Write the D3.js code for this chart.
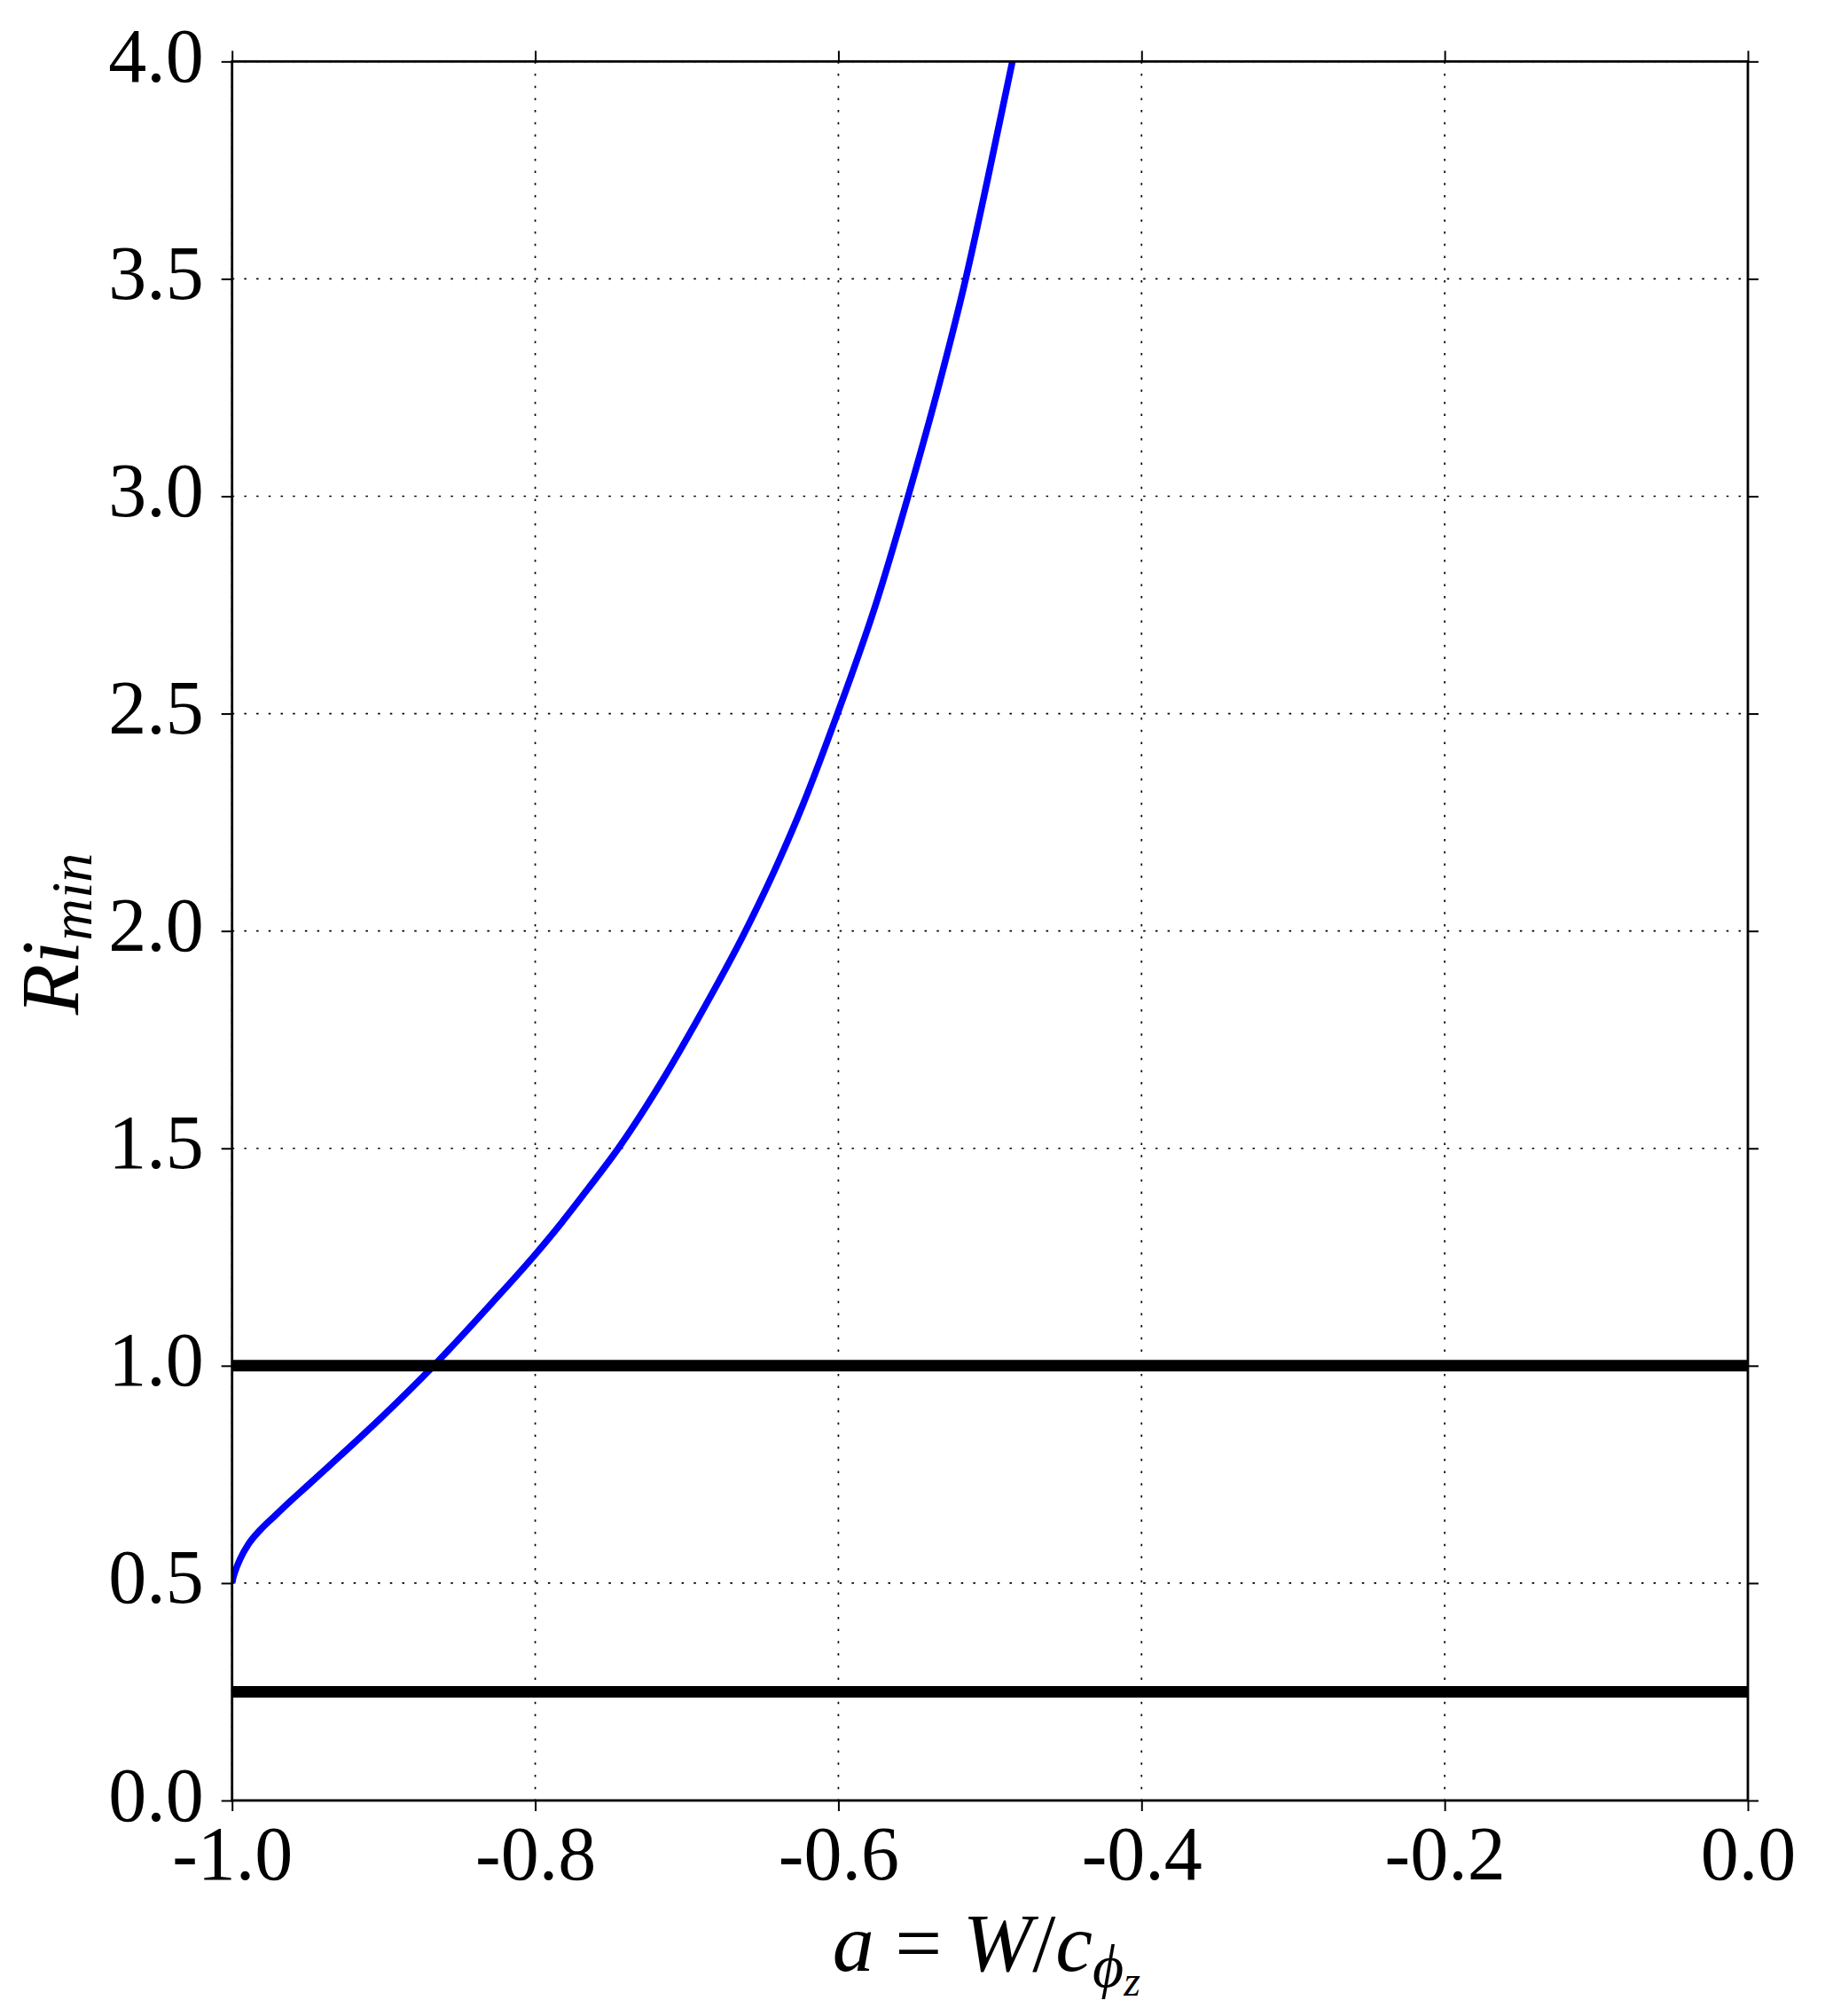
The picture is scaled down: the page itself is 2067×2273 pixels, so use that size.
<!DOCTYPE html>
<html>
<head>
<meta charset="utf-8">
<script src="https://cdn.jsdelivr.net/npm/d3@7"></script>
<style>
  html, body { margin: 0; padding: 0; background: #fff; }
  svg { display: block; }
</style>
</head>
<body>
<svg id="chart" width="2067" height="2273"></svg>
<script>
// ---- data ----
const aVals  = [-1.0, -0.9993, -0.998, -0.9946, -0.9893, -0.9815, -0.9717, -0.962, -0.9503, -0.9396, -0.9283, -0.9006, -0.867, -0.8284, -0.8002, -0.7826, -0.765, -0.7452, -0.7169, -0.6939, -0.6613, -0.6393, -0.6237, -0.6006, -0.5759, -0.554, -0.5349, -0.516, -0.5018, -0.4852];
const riVals = [0.5, 0.512, 0.527, 0.556, 0.589, 0.622, 0.655, 0.687, 0.724, 0.758, 0.794, 0.884, 1.0, 1.145, 1.255, 1.329, 1.408, 1.5, 1.652, 1.79, 2.0, 2.161, 2.288, 2.5, 2.745, 3.0, 3.239, 3.5, 3.725, 4.0];
const hLineVals = [1.0, 0.25];
const xTicks = [-1.0, -0.8, -0.6, -0.4, -0.2, 0.0];
const xTickLabels = ["-1.0", "-0.8", "-0.6", "-0.4", "-0.2", "0.0"];
const yTicks = [0.0, 0.5, 1.0, 1.5, 2.0, 2.5, 3.0, 3.5, 4.0];
const yTickLabels = ["0.0", "0.5", "1.0", "1.5", "2.0", "2.5", "3.0", "3.5", "4.0"];
const xDomain = [-1.0, 0.0];
const yDomain = [0.0, 4.0];

// ---- layout ----
const L = 261.7, R = 1971, T = 69.3, B = 2030;
const FONT = "'Liberation Serif', 'Times New Roman', serif";

const svg = d3.select("#chart");
svg.append("rect").attr("width", 2067).attr("height", 2273).attr("fill", "#fff");

const x = d3.scaleLinear().domain(xDomain).range([L, R]);
const y = d3.scaleLinear().domain(yDomain).range([B, T]);

svg.append("defs").append("clipPath").attr("id", "clip")
  .append("rect").attr("x", L).attr("y", T).attr("width", R - L).attr("height", B - T);

// grid
const grid = svg.append("g");
grid.selectAll("line.gx").data(xTicks).join("line")
  .attr("x1", d => x(d)).attr("x2", d => x(d)).attr("y1", T).attr("y2", B)
  .attr("stroke", "#000").attr("stroke-width", 1.7).attr("stroke-dasharray", "2.5,11.2");
grid.selectAll("line.gy").data(yTicks).join("line")
  .attr("y1", d => y(d)).attr("y2", d => y(d)).attr("x1", L).attr("x2", R)
  .attr("stroke", "#000").attr("stroke-width", 1.7).attr("stroke-dasharray", "2.5,11.2");

// data lines
const plot = svg.append("g").attr("clip-path", "url(#clip)");
const pts = aVals.map((a, i) => [a, riVals[i]]);
plot.append("path")
  .datum(pts)
  .attr("fill", "none")
  .attr("stroke", "#0000ff")
  .attr("stroke-width", 7.5)
  .attr("stroke-linejoin", "round")
  .attr("d", d3.line().x(d => x(d[0])).y(d => y(d[1])).curve(d3.curveMonotoneX));

plot.selectAll("line.h").data(hLineVals).join("line")
  .attr("x1", x(xDomain[0])).attr("x2", x(xDomain[1]))
  .attr("y1", d => y(d)).attr("y2", d => y(d))
  .attr("stroke", "#000").attr("stroke-width", 13);

// axes
function styleAxis(g) {
  g.select(".domain").remove();
  g.selectAll(".tick line").attr("stroke", "#000").attr("stroke-width", 2);
}
svg.append("g").attr("transform", `translate(0,${B})`)
  .call(d3.axisBottom(x).tickValues(xTicks).tickFormat((d, i) => xTickLabels[i]).tickSize(12))
  .call(styleAxis)
  .call(g => g.selectAll("text")
    .attr("y", 89).attr("dy", 0)
    .attr("font-family", FONT).attr("font-size", 86).attr("fill", "#000"));

svg.append("g").attr("transform", `translate(${L},0)`)
  .call(d3.axisLeft(y).tickValues(yTicks).tickFormat((d, i) => yTickLabels[i]).tickSize(12))
  .call(styleAxis)
  .call(g => g.selectAll("text")
    .attr("x", -32).attr("dy", 22)
    .attr("font-family", FONT).attr("font-size", 86).attr("fill", "#000"));

svg.append("g").attr("transform", `translate(0,${T})`)
  .call(d3.axisTop(x).tickValues(xTicks).tickFormat("").tickSize(12))
  .call(styleAxis);

svg.append("g").attr("transform", `translate(${R},0)`)
  .call(d3.axisRight(y).tickValues(yTicks).tickFormat("").tickSize(12))
  .call(styleAxis);

// spines
svg.append("rect").attr("x", L).attr("y", T).attr("width", R - L).attr("height", B - T)
  .attr("fill", "none").attr("stroke", "#000").attr("stroke-width", 2.8);

// x label: a = W/c_{phi_z}
const xl = svg.append("text")
  .attr("x", (L + R) / 2 - 4).attr("y", 2222)
  .attr("text-anchor", "middle")
  .attr("font-family", FONT).attr("font-size", 94).attr("fill", "#000");
xl.append("tspan").attr("font-style", "italic").text("a");
xl.append("tspan").text(" = ");
xl.append("tspan").attr("font-style", "italic").text("W");
xl.append("tspan").text("/");
xl.append("tspan").attr("font-style", "italic").text("c");
xl.append("tspan").attr("font-style", "italic").attr("font-size", 68).attr("dy", 18).text("\u03D5");
xl.append("tspan").attr("font-style", "italic").attr("font-size", 48).attr("dy", 10).text("z");

// y label: Ri_{min}
const yl = svg.append("text")
  .attr("transform", `translate(88,1053) rotate(-90)`)
  .attr("text-anchor", "middle")
  .attr("font-family", FONT).attr("font-size", 94).attr("fill", "#000");
yl.append("tspan").attr("font-style", "italic").text("Ri");
yl.append("tspan").attr("font-style", "italic").attr("font-size", 66).attr("dy", 15).text("min");
</script>
</body>
</html>
